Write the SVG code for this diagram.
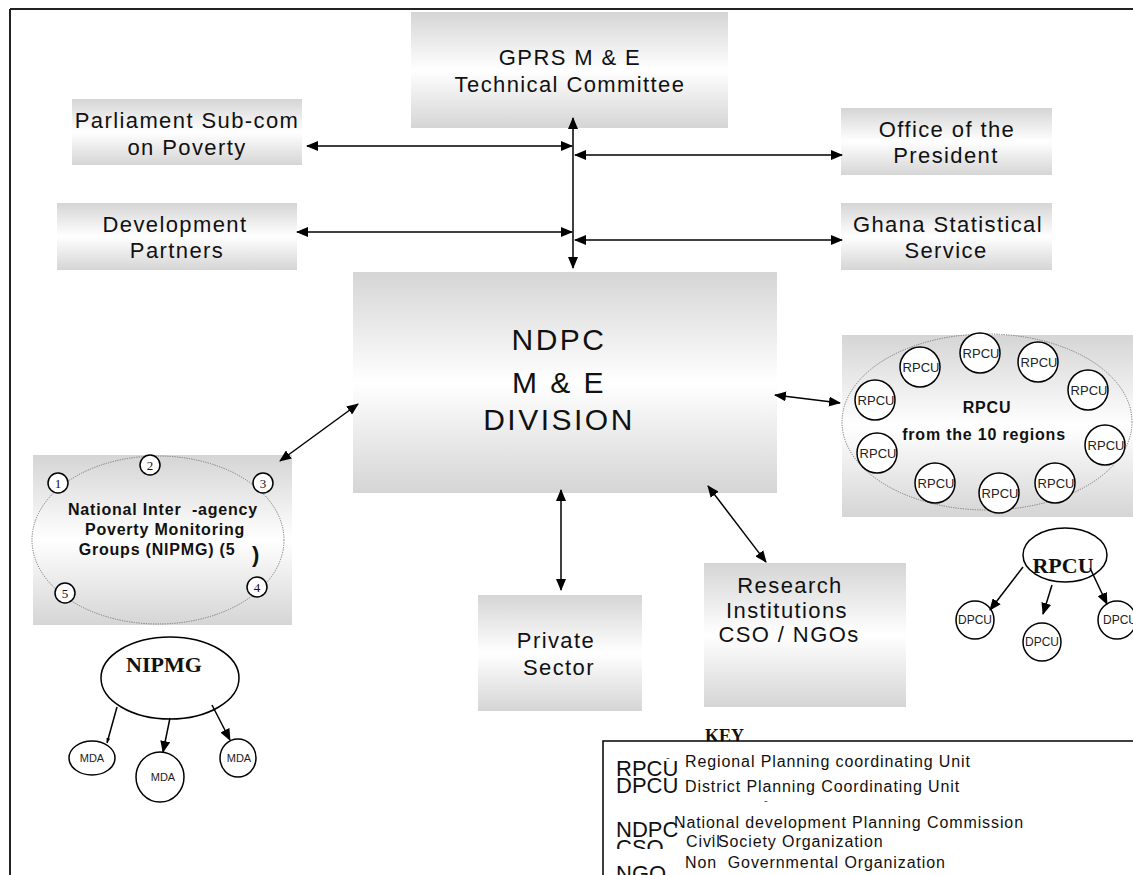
<svg xmlns="http://www.w3.org/2000/svg" width="1133" height="875" viewBox="0 0 1133 875">
<defs>
  <linearGradient id="g" x1="0" y1="0" x2="0" y2="1">
    <stop offset="0" stop-color="#d5d5d5"/>
    <stop offset="0.5" stop-color="#ffffff"/>
    <stop offset="1" stop-color="#d5d5d5"/>
  </linearGradient>
  <marker id="ah" markerWidth="12" markerHeight="10" refX="11" refY="5" orient="auto-start-reverse" markerUnits="userSpaceOnUse">
    <path d="M0,0 L12,5 L0,10 z" fill="#000"/>
  </marker>
  <marker id="ahs" markerWidth="5" markerHeight="4" refX="5" refY="2" orient="auto" markerUnits="userSpaceOnUse">
    <path d="M0,0 L5,2 L0,4 z" fill="#000"/>
  </marker>
  <clipPath id="clipCSO"><rect x="600" y="800" width="200" height="49"/></clipPath>
  <clipPath id="clipDist"><rect x="600" y="770" width="533" height="25"/></clipPath>
</defs>
<style>
  .box{fill:url(#g)}
  .lbl{font-family:"Liberation Sans",Arial,sans-serif;font-size:22px;letter-spacing:1.4px;fill:#111;text-anchor:middle}
  .big{font-family:"Liberation Sans",Arial,sans-serif;font-size:30px;letter-spacing:2.5px;fill:#111;text-anchor:middle}
  .bold{font-family:"Liberation Sans",Arial,sans-serif;font-size:16px;font-weight:bold;letter-spacing:0.8px;fill:#111;text-anchor:middle}
  .small{font-family:"Liberation Sans",Arial,sans-serif;font-size:12px;fill:#222;text-anchor:middle}
  .num{font-family:"Liberation Serif","Times New Roman",serif;font-size:13px;fill:#111;text-anchor:middle}
  .tb{font-family:"Liberation Serif","Times New Roman",serif;font-size:22px;font-weight:bold;fill:#111;text-anchor:middle}
  .dot{fill:none;stroke:#777;stroke-width:1;stroke-dasharray:1.2 1.2}
  .circ{fill:#fff;stroke:#000;stroke-width:1.5}
  .conn{fill:none;stroke:#000;stroke-width:1.5}
  .both{marker-start:url(#ah);marker-end:url(#ah)}
  .end{marker-end:url(#ah)}
  .keyab{font-family:"Liberation Sans",Arial,sans-serif;font-size:22px;fill:#111}
  .keytx{font-family:"Liberation Sans",Arial,sans-serif;font-size:16px;letter-spacing:0.9px;fill:#111}
  .tick{font-family:"Liberation Sans",Arial,sans-serif;font-size:11px;fill:#444}
</style>

<g id="frame">
  <line x1="10" y1="9" x2="1133" y2="9" stroke="#222" stroke-width="2"/>
  <line x1="10" y1="9" x2="10" y2="875" stroke="#222" stroke-width="2"/>
</g>

<g id="gprs">
  <rect class="box" x="411" y="12" width="317" height="116"/>
  <text class="lbl" x="570" y="65">GPRS M &amp; E</text>
  <text class="lbl" x="570" y="92">Technical Committee</text>
</g>

<g id="parliament">
  <rect class="box" x="72" y="99" width="230" height="66"/>
  <text class="lbl" x="187" y="128">Parliament Sub-com</text>
  <text class="lbl" x="187" y="155">on Poverty</text>
</g>

<g id="devpartners">
  <rect class="box" x="57" y="203" width="240" height="67"/>
  <text class="lbl" x="175" y="232">Development</text>
  <text class="lbl" x="177" y="258">Partners</text>
</g>

<g id="office">
  <rect class="box" x="841" y="108" width="211" height="67"/>
  <text class="lbl" x="947" y="137">Office of the</text>
  <text class="lbl" x="946" y="163">President</text>
</g>

<g id="ghana">
  <rect class="box" x="841" y="203" width="211" height="67"/>
  <text class="lbl" x="948" y="232">Ghana Statistical</text>
  <text class="lbl" x="946" y="258">Service</text>
</g>

<g id="ndpc">
  <rect class="box" x="353" y="272" width="424" height="221"/>
  <text class="big" x="559" y="350">NDPC</text>
  <text class="big" x="559" y="393">M &amp; E</text>
  <text class="big" x="559" y="430">DIVISION</text>
</g>

<g id="private">
  <rect class="box" x="478" y="595" width="164" height="116"/>
  <text class="lbl" x="556" y="648">Private</text>
  <text class="lbl" x="559" y="675">Sector</text>
</g>

<g id="research">
  <rect class="box" x="704" y="563" width="202" height="144"/>
  <text class="lbl" x="790" y="593">Research</text>
  <text class="lbl" x="787" y="618">Institutions</text>
  <text class="lbl" x="789" y="642">CSO / NGOs</text>
</g>

<g id="nipmg-group">
  <rect class="box" x="33" y="455" width="259" height="170"/>
  <ellipse class="dot" cx="158" cy="540" rx="126" ry="84"/>
  <circle class="circ" cx="58" cy="483" r="10"/><text class="num" x="58" y="488">1</text>
  <circle class="circ" cx="150" cy="465" r="10"/><text class="num" x="150" y="470">2</text>
  <circle class="circ" cx="263" cy="483" r="10"/><text class="num" x="263" y="488">3</text>
  <circle class="circ" cx="257" cy="587" r="10"/><text class="num" x="257" y="592">4</text>
  <circle class="circ" cx="65" cy="593" r="10"/><text class="num" x="65" y="598">5</text>
  <text class="bold" x="163" y="515" xml:space="preserve">National Inter  -agency</text>
  <text class="bold" x="165" y="535">Poverty Monitoring</text>
  <text class="bold" x="157" y="555">Groups (NIPMG) (5</text>
  <text class="bold" x="256" y="562" style="font-size:22px">)</text>
</g>

<g id="rpcu-group">
  <rect class="box" x="842" y="335" width="291" height="182"/>
  <ellipse class="dot" cx="987" cy="422" rx="145" ry="88"/>
  <g class="rpcus">
    <circle class="circ" cx="920" cy="367" r="20"/><text class="small" x="921" y="372" style="font-size:13px">RPCU</text>
    <circle class="circ" cx="980" cy="353" r="20"/><text class="small" x="981" y="358" style="font-size:13px">RPCU</text>
    <circle class="circ" cx="1038" cy="362" r="20"/><text class="small" x="1039" y="367" style="font-size:13px">RPCU</text>
    <circle class="circ" cx="1088" cy="390" r="20"/><text class="small" x="1089" y="395" style="font-size:13px">RPCU</text>
    <circle class="circ" cx="1105" cy="445" r="20"/><text class="small" x="1106" y="450" style="font-size:13px">RPCU</text>
    <circle class="circ" cx="1055" cy="483" r="20"/><text class="small" x="1056" y="488" style="font-size:13px">RPCU</text>
    <circle class="circ" cx="999" cy="493" r="20"/><text class="small" x="1000" y="498" style="font-size:13px">RPCU</text>
    <circle class="circ" cx="935" cy="483" r="20"/><text class="small" x="936" y="488" style="font-size:13px">RPCU</text>
    <circle class="circ" cx="877" cy="453" r="20"/><text class="small" x="878" y="458" style="font-size:13px">RPCU</text>
    <circle class="circ" cx="875" cy="400" r="20"/><text class="small" x="876" y="405" style="font-size:13px">RPCU</text>
  </g>
  <text class="bold" x="987" y="413">RPCU</text>
  <text class="bold" x="984" y="440">from the 10 regions</text>
</g>

<g id="nipmg-tree">
  <ellipse class="circ" cx="170" cy="678" rx="69" ry="41"/>
  <text class="tb" x="164" y="672">NIPMG</text>
  <ellipse class="circ" cx="92" cy="758" rx="23" ry="17"/><text class="small" x="92" y="762" style="font-size:11px">MDA</text>
  <ellipse class="circ" cx="160" cy="777" rx="24" ry="25"/><text class="small" x="163" y="781" style="font-size:11px">MDA</text>
  <ellipse class="circ" cx="238" cy="758" rx="18" ry="19"/><text class="small" x="239" y="762" style="font-size:11px">MDA</text>
</g>

<g id="rpcu-tree">
  <ellipse class="circ" cx="1065" cy="555" rx="42" ry="27"/>
  <text class="tb" x="1063" y="573">RPCU</text>
  <circle class="circ" cx="975" cy="620" r="19"/><text class="small" x="975" y="624">DPCU</text>
  <circle class="circ" cx="1042" cy="642" r="19"/><text class="small" x="1042" y="646">DPCU</text>
  <circle class="circ" cx="1117" cy="620" r="19"/><text class="small" x="1120" y="624">DPCU</text>
</g>

<g id="connectors">
  <line class="conn both" x1="573" y1="118" x2="573" y2="268"/>
  <line class="conn both" x1="307" y1="146" x2="572" y2="146"/>
  <line class="conn both" x1="297" y1="232" x2="572" y2="232"/>
  <line class="conn both" x1="575" y1="155" x2="842" y2="155"/>
  <line class="conn both" x1="575" y1="240" x2="842" y2="240"/>
  <line class="conn both" x1="280" y1="461" x2="358" y2="404"/>
  <line class="conn both" x1="775" y1="395" x2="840" y2="403"/>
  <line class="conn both" x1="561" y1="490" x2="561" y2="590"/>
  <line class="conn both" x1="708" y1="486" x2="766" y2="562"/>
  <line class="conn" x1="117" y1="707" x2="107" y2="743" marker-end="url(#ahs)"/>
  <line class="conn end" x1="170" y1="718" x2="163" y2="752"/>
  <line class="conn end" x1="212" y1="705" x2="230" y2="740"/>
  <line class="conn end" x1="1023" y1="567" x2="990" y2="610"/>
  <line class="conn end" x1="1052" y1="585" x2="1043" y2="614"/>
  <line class="conn end" x1="1090" y1="568" x2="1107" y2="604"/>
</g>

<g id="key">
  <text x="705" y="742" style="font-family:'Liberation Serif','Times New Roman',serif;font-size:18px;font-weight:bold;fill:#111">KEY</text>
  <rect x="603" y="741" width="540" height="140" fill="#fff" stroke="#000" stroke-width="1.5"/>
  <text class="keyab" x="616" y="776">RPCU</text>
  <text class="tick" x="666" y="761">-</text>
  <text class="keytx" x="685" y="767">Regional Planning coordinating Unit</text>
  <text class="keyab" x="616" y="793">DPCU</text>
  <text class="keytx" x="685" y="792" clip-path="url(#clipDist)">District Planning Coordinating Unit</text>
  <text class="tick" x="764" y="804">-</text>
  <text class="keyab" x="616" y="837">NDPC</text>
  <text class="tick" x="680" y="829">-</text>
  <text class="keytx" x="674" y="828">National development Planning Commission</text>
  <text class="keyab" x="616" y="855" clip-path="url(#clipCSO)">CSO</text>
  <text class="keytx" x="686" y="847">Civil</text>
  <text class="tick" x="711" y="840">-</text>
  <text class="keytx" x="718" y="847">Society Organization</text>
  <text class="keyab" x="616" y="881">NGO</text>
  <text class="keytx" x="685" y="868" xml:space="preserve">Non  Governmental Organization</text>
</g>
</svg>
